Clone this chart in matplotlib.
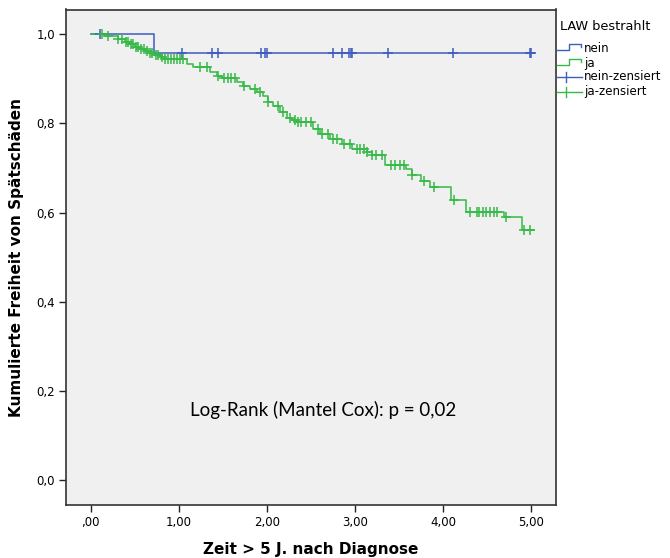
import numpy as np
import matplotlib.pyplot as plt
from matplotlib.lines import Line2D

# Kaplan-Meier data
# group "nein": event times / survival after the event, censored times
nein_event_t = [0.72]
nein_event_s = [0.957]
nein_censor_t = [0.11, 1.04, 1.38, 1.45, 1.93, 1.98, 2.00, 2.75, 2.85, 2.93,
                 2.95, 2.97, 3.37, 4.11, 4.98, 5.00]
nein_end = 5.03

# group "ja"
ja_event_t = [0.16, 0.31, 0.39, 0.45, 0.50, 0.56, 0.62, 0.67, 0.73, 0.79, 0.84,
              1.09, 1.16, 1.35, 1.43, 1.49, 1.66, 1.73, 1.81, 1.89, 1.95, 2.01,
              2.07, 2.15, 2.23, 2.29, 2.34, 2.52, 2.60, 2.71, 2.85, 2.97, 3.13,
              3.19, 3.34, 3.58, 3.65, 3.75, 3.85, 4.09, 4.26, 4.69, 4.89]
ja_event_s = [0.996, 0.989, 0.982, 0.978, 0.971, 0.966, 0.962, 0.957, 0.953,
              0.948, 0.944, 0.933, 0.926, 0.915, 0.906, 0.901, 0.892, 0.883,
              0.876, 0.870, 0.861, 0.847, 0.838, 0.825, 0.813, 0.807, 0.802,
              0.787, 0.775, 0.764, 0.753, 0.742, 0.735, 0.728, 0.706, 0.697,
              0.685, 0.670, 0.658, 0.629, 0.602, 0.591, 0.562]
ja_censor_t = [0.13, 0.20, 0.31, 0.36, 0.40, 0.42, 0.46, 0.48, 0.51, 0.54, 0.57,
               0.61, 0.64, 0.67, 0.70, 0.74, 0.76, 0.81, 0.84, 0.88, 0.91, 0.95,
               0.98, 1.01, 1.05, 1.24, 1.32, 1.44, 1.51, 1.56, 1.59, 1.64, 1.74,
               1.87, 1.92, 2.01, 2.12, 2.18, 2.26, 2.32, 2.35, 2.39, 2.44, 2.50,
               2.58, 2.63, 2.69, 2.75, 2.80, 2.88, 2.94, 3.02, 3.06, 3.10, 3.14,
               3.19, 3.24, 3.30, 3.41, 3.45, 3.51, 3.56, 3.65, 3.78, 3.90, 4.12,
               4.30, 4.38, 4.41, 4.45, 4.49, 4.53, 4.58, 4.61, 4.71, 4.92, 4.98]
ja_end = 5.03

x_ticks = [0, 1, 2, 3, 4, 5]
x_ticklabels = [',00', '1,00', '2,00', '3,00', '4,00', '5,00']
y_ticks = [0, 0.2, 0.4, 0.6, 0.8, 1.0]
y_ticklabels = ['0,0', '0,2', '0,4', '0,6', '0,8', '1,0']

BLUE = '#3f5cbf'
GREEN = '#36b947'


def km_curve(ev_t, ev_s, end):
    t = np.array([0.0] + list(ev_t) + [end])
    s = np.array([1.0] + list(ev_s) + [ev_s[-1]])
    return t, s


def surv_at(t, s, times):
    idx = np.searchsorted(t, times, side='right') - 1
    return s[np.clip(idx, 0, len(s) - 1)]


fig = plt.figure(figsize=(6.7, 5.58), dpi=100)
ax = fig.add_axes([66 / 670, 1 - 505 / 558, 490 / 670, 495.5 / 558])
ax.set_facecolor('#f0f0f0')

for ev_t, ev_s, end, cens, col in [
        (nein_event_t, nein_event_s, nein_end, nein_censor_t, BLUE),
        (ja_event_t, ja_event_s, ja_end, ja_censor_t, GREEN)]:
    t, s = km_curve(ev_t, ev_s, end)
    ax.step(t, s, where='post', color=col, lw=1.1, zorder=3)
    ax.plot(cens, surv_at(t, s, np.array(cens)), ls='none', marker='+',
            ms=7.5, mew=1.1, color=col, zorder=4)

ax.set_xlim(-0.28, 5.28)
ax.set_ylim(-0.055, 1.055)
ax.set_xticks(x_ticks)
ax.set_xticklabels(x_ticklabels, fontsize=8.5)
ax.set_yticks(y_ticks)
ax.set_yticklabels(y_ticklabels, fontsize=8.5)
ax.tick_params(direction='out', length=5, width=1, color='#222222', pad=3)
for sp in ax.spines.values():
    sp.set_linewidth(1.2)
    sp.set_color('#333333')

ax.set_xlabel('Zeit > 5 J. nach Diagnose', fontsize=11, fontweight='bold', labelpad=9)
ax.set_ylabel('Kumulierte Freiheit von Spätschäden', fontsize=11, fontweight='bold', labelpad=9)

ax.text(1.13, 0.157, 'Log-Rank (Mantel Cox): p = 0,02', fontsize=13.5,
        family=['Lato', 'DejaVu Sans'], va='center', ha='left')

# legend, drawn in pixel coords of the figure
lg = fig.add_axes([0, 0, 1, 1], facecolor='none')
lg.set_xlim(0, 670)
lg.set_ylim(558, 0)
lg.axis('off')
lg.text(560, 26, 'LAW bestrahlt', fontsize=9.3, va='center', ha='left')
for yc, col in [(48, BLUE), (63, GREEN)]:
    lg.add_line(Line2D([557, 569, 569, 581, 581], [yc + 2, yc + 2, yc - 4, yc - 4, yc - 1],
                       color=col, lw=1))
for yc, col in [(77, BLUE), (92, GREEN)]:
    lg.add_line(Line2D([557, 582], [yc, yc], color=col, lw=1))
    lg.add_line(Line2D([566, 566], [yc - 5, yc + 5], color=col, lw=1))
for yc, lab in zip([48, 63, 77, 92], ['nein', 'ja', 'nein-zensiert', 'ja-zensiert']):
    lg.text(584, yc, lab, fontsize=8.5, va='center', ha='left')

fig.savefig('out.png', dpi=100)
